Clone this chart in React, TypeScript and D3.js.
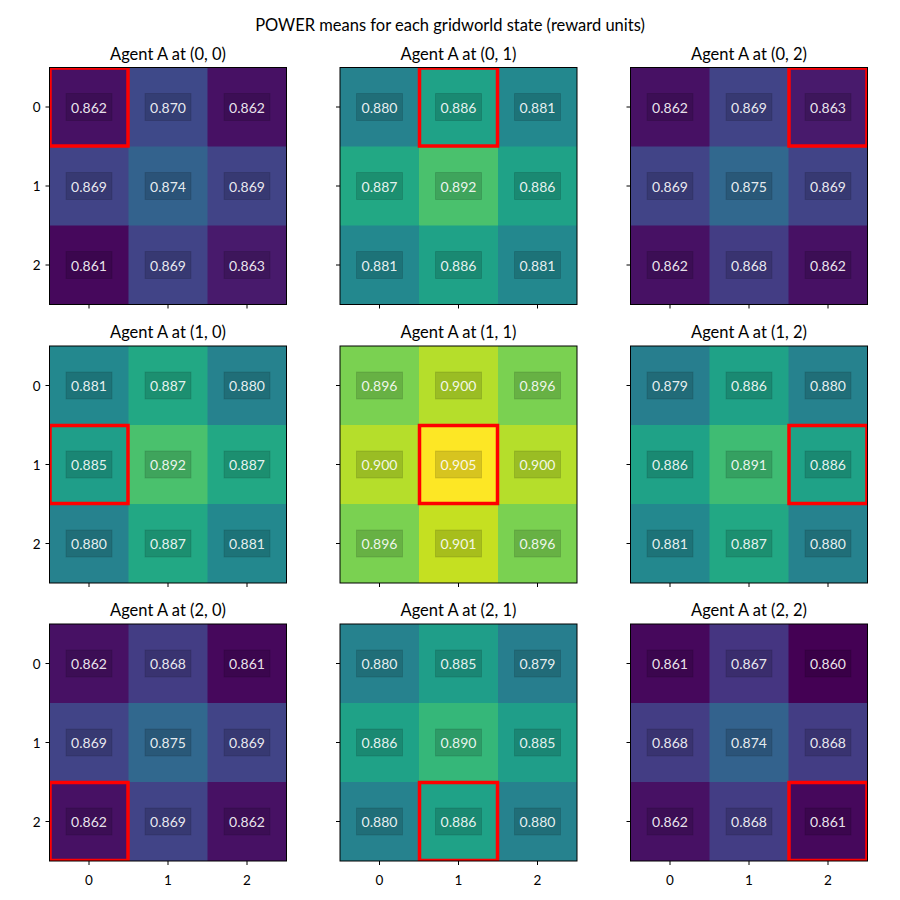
import React from "react";
import * as d3 from "d3";

const title = "POWER means for each gridworld state (reward units)";
const gridIdx = [0, 1, 2];
const tickLabels = ["0", "1", "2"];

// agent position for each panel (row, col)
const agentPositions: [number, number][] = [
  [0, 0], [0, 1], [0, 2],
  [1, 0], [1, 1], [1, 2],
  [2, 0], [2, 1], [2, 2],
];

// POWER values per panel, rows of the 3x3 gridworld
const power00 = [[0.862, 0.870, 0.862], [0.869, 0.874, 0.869], [0.861, 0.869, 0.863]];
const power01 = [[0.880, 0.886, 0.881], [0.887, 0.892, 0.886], [0.881, 0.886, 0.881]];
const power02 = [[0.862, 0.869, 0.863], [0.869, 0.875, 0.869], [0.862, 0.868, 0.862]];
const power10 = [[0.881, 0.887, 0.880], [0.885, 0.892, 0.887], [0.880, 0.887, 0.881]];
const power11 = [[0.896, 0.900, 0.896], [0.900, 0.905, 0.900], [0.896, 0.901, 0.896]];
const power12 = [[0.879, 0.886, 0.880], [0.886, 0.891, 0.886], [0.881, 0.887, 0.880]];
const power20 = [[0.862, 0.868, 0.861], [0.869, 0.875, 0.869], [0.862, 0.869, 0.862]];
const power21 = [[0.880, 0.885, 0.879], [0.886, 0.890, 0.885], [0.880, 0.886, 0.880]];
const power22 = [[0.861, 0.867, 0.860], [0.868, 0.874, 0.868], [0.862, 0.868, 0.861]];

const panels = [power00, power01, power02, power10, power11, power12, power20, power21, power22];

const font = "Lato, 'DejaVu Sans', sans-serif";
const axSize = 237;
const colX = [49.5, 340, 630.5];
const rowY = [67.5, 346, 624];

const allValues = panels.flat(2);
const [vmin = 0, vmax = 1] = d3.extent(allValues);
const color = d3.scaleSequential(d3.interpolateViridis).domain([vmin, vmax]);

const Panel = ({ idx }: { idx: number }) => {
  const pr = Math.floor(idx / 3);
  const pc = idx % 3;
  const data = panels[idx];
  const [ar, ac] = agentPositions[idx];
  const x = d3.scaleBand<number>().domain(gridIdx).range([0, axSize]);
  const y = d3.scaleBand<number>().domain(gridIdx).range([0, axSize]);
  const bw = x.bandwidth();
  const clipId = `clip-${idx}`;

  return (
    <g transform={`translate(${colX[pc]},${rowY[pr]})`}>
      <defs>
        <clipPath id={clipId}>
          <rect x={0} y={0} width={axSize} height={axSize} />
        </clipPath>
      </defs>
      <text x={axSize / 2} y={-14} textAnchor="middle" dominantBaseline="central" fontSize={16.5} fontFamily={font} fill="#000">
        {`Agent A at (${ar}, ${ac})`}
      </text>
      <g clipPath={`url(#${clipId})`}>
        {data.map((row, r) =>
          row.map((v, c) => (
            <rect
              key={`${r}-${c}`}
              x={x(c)}
              y={y(r)}
              width={bw + 0.5}
              height={bw + 0.5}
              fill={color(v)}
            />
          ))
        )}
        <rect
          x={(x(ac) ?? 0) + 0.5}
          y={(y(ar) ?? 0) + 0.5}
          width={bw - 1}
          height={bw - 1}
          fill="none"
          stroke="#ff0000"
          strokeWidth={3.5}
        />
      </g>
      {data.map((row, r) =>
        row.map((v, c) => {
          const cx = (x(c) ?? 0) + bw / 2;
          const cy = (y(r) ?? 0) + bw / 2;
          return (
            <g key={`t-${r}-${c}`}>
              <rect
                x={cx - 23}
                y={cy - 13.5}
                width={46}
                height={27}
                fill="#000"
                fillOpacity={0.15}
                stroke="#000"
                strokeOpacity={0.12}
                strokeWidth={1}
              />
              <text
                x={cx}
                y={cy}
                textAnchor="middle"
                dominantBaseline="central"
                fontSize={14}
                fontFamily={font}
                fill="#fff"
                fillOpacity={0.9}
              >
                {d3.format(".3f")(v)}
              </text>
            </g>
          );
        })
      )}
      <rect x={0} y={0} width={axSize} height={axSize} fill="none" stroke="#000" strokeWidth={1} />
      {gridIdx.map((i) => {
        const cy = (y(i) ?? 0) + bw / 2;
        return (
          <g key={`yt-${i}`}>
            <line x1={-4} x2={0} y1={cy} y2={cy} stroke="#000" strokeWidth={1} />
            {pc === 0 && (
              <text x={-9} y={cy} textAnchor="end" dominantBaseline="central" fontSize={13.5} fontFamily={font} fill="#000">
                {tickLabels[i]}
              </text>
            )}
          </g>
        );
      })}
      {gridIdx.map((i) => {
        const cx = (x(i) ?? 0) + bw / 2;
        return (
          <g key={`xt-${i}`}>
            <line x1={cx} x2={cx} y1={axSize} y2={axSize + 4} stroke="#000" strokeWidth={1} />
            {pr === 2 && (
              <text x={cx} y={axSize + 19} textAnchor="middle" dominantBaseline="central" fontSize={13.5} fontFamily={font} fill="#000">
                {tickLabels[i]}
              </text>
            )}
          </g>
        );
      })}
    </g>
  );
};

export default function App() {
  return (
    <svg width={900} height={900} style={{ position: "absolute", left: 0, top: 0, background: "#fff" }}>
      <rect width={900} height={900} fill="#fff" />
      <text x={450} y={25} textAnchor="middle" dominantBaseline="central" fontSize={16.5} fontFamily={font} fill="#000">
        {title}
      </text>
      {panels.map((_, i) => (
        <Panel key={i} idx={i} />
      ))}
    </svg>
  );
}
